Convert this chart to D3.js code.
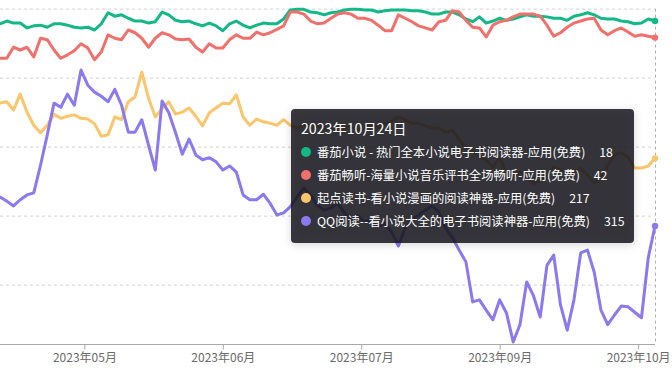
<!DOCTYPE html>
<html>
<head>
<meta charset="utf-8">
<script src="https://cdn.jsdelivr.net/npm/d3@7"></script>
<style>
  body { margin: 0; background: #fff; }
  svg { display: block; font-family: "Noto Sans CJK SC", "Noto Sans", sans-serif; }
</style>
</head>
<body>
<div id="vis"></div>
<script>
// app names (tooltip order = draw order)
var names = [
  "番茄小说 - 热门全本小说电子书阅读器-应用(免费)",
  "番茄畅听-海量小说音乐评书全场畅听-应用(免费)",
  "起点读书-看小说漫画的阅读神器-应用(免费)",
  "QQ阅读--看小说大全的电子书阅读神器-应用(免费)"
];
var colors = ["#13b886", "#f2706b", "#fbc56c", "#8a79ef"];

// one value every 2 days, 2023-04-13 .. 2023-10-24 (rank, 1 = top)
var fanqie = [22,18,21,21,28,25,24,27,22,22,24,27,28,27,31,22,6,11,9,14,
  18,18,21,19,5,9,17,19,18,22,25,21,25,32,22,18,24,28,24,21,
  22,22,15,2,1,1,5,6,9,6,5,2,1,1,2,2,5,3,2,2,
  2,3,3,5,8,8,5,5,9,15,19,12,21,18,14,17,15,12,9,11,
  11,12,14,14,17,11,9,6,9,14,15,15,18,19,22,21,15,18];
var changting = [72,72,56,60,56,70,43,45,60,72,67,61,51,57,74,63,38,43,45,31,
  35,43,56,43,35,38,44,45,44,56,63,51,57,57,45,38,43,43,34,38,
  35,30,25,5,5,8,18,22,21,14,8,6,8,14,14,17,24,32,32,9,
  14,19,25,28,31,19,17,3,5,17,27,28,41,24,19,17,12,8,8,8,
  11,24,40,35,27,21,18,15,14,31,38,32,28,34,40,38,40,42];
var qidian = [137,135,147,124,150,169,180,169,153,159,156,154,159,160,167,185,183,157,161,135,
  128,92,130,157,145,135,153,150,144,156,170,151,144,137,138,125,157,169,160,164,
  166,169,161,169,173,169,173,170,174,172,176,173,170,176,172,169,173,167,163,157,
  161,166,166,170,173,173,179,176,190,201,205,215,219,230,215,238,244,237,241,254,
  248,241,230,234,237,237,231,241,253,245,227,212,209,215,231,231,228,217];
var qq = [273,279,286,277,270,267,227,183,137,143,124,140,89,111,121,127,135,117,140,179,
  179,161,198,234,134,151,180,211,189,212,219,216,222,234,228,237,270,277,277,269,
  282,299,296,287,273,260,270,285,292,289,282,296,306,300,309,305,316,311,324,344,
  318,306,299,292,286,295,318,332,350,367,425,422,437,451,422,441,483,458,396,416,
  447,372,357,429,466,422,354,350,382,437,458,444,431,432,440,448,361,315];

var series = [fanqie, changting, qidian, qq];

var dates = d3.timeDay.range(new Date(2023, 3, 13), new Date(2023, 9, 25), 2);
var tickDates = ["2023-05-08", "2023-06-18", "2023-07-29", "2023-09-08", "2023-10-19"];
var yTicks = [0, 100, 200, 300, 400];
var yMax = 486;

var W = 672, H = 371;
var parse = d3.timeParse("%Y-%m-%d");

var x = d3.scaleTime()
  .domain([dates[0], dates[dates.length - 1]])
  .range([0, 655]);
var y = d3.scaleLinear().domain([0, yMax]).range([8.6, 344]);

var svg = d3.select("#vis").append("svg")
  .attr("width", W)
  .attr("height", H);

var defs = svg.append("defs");
var f = defs.append("filter").attr("id", "shadow")
  .attr("x", "-10%").attr("y", "-10%").attr("width", "120%").attr("height", "130%");
f.append("feDropShadow").attr("dx", 0).attr("dy", 2).attr("stdDeviation", 4)
  .attr("flood-color", "#000").attr("flood-opacity", 0.18);

// grid
svg.append("g").selectAll("line").data(yTicks).enter().append("line")
  .attr("x1", 0).attr("x2", 655)
  .attr("y1", function(d){ return y(d) + 0.5; })
  .attr("y2", function(d){ return y(d) + 0.5; })
  .attr("stroke", "#d2d2d2")
  .attr("stroke-dasharray", "3,3");

// x axis
var xAxis = d3.axisBottom(x)
  .tickValues(tickDates.map(parse))
  .tickFormat(d3.timeFormat("%Y年%m月"))
  .tickSizeInner(5).tickSizeOuter(0).tickPadding(4);

var gx = svg.append("g").attr("transform", "translate(0," + 344.5 + ")").call(xAxis);
gx.select(".domain").attr("stroke", "#a8a8a8").attr("d", "M0,0H655");
gx.selectAll(".tick line").attr("stroke", "#a8a8a8");
gx.selectAll(".tick text").attr("fill", "#6a6a6a").attr("font-size", 12)
  .attr("font-family", "Noto Sans CJK SC");

// axis pointer
svg.append("line")
  .attr("x1", 655.5).attr("x2", 655.5)
  .attr("y1", y(0)).attr("y2", 344)
  .attr("stroke", "#b0b0b0")
  .attr("stroke-dasharray", "3,3");

var line = d3.line()
  .x(function(d, i){ return x(dates[i]); })
  .y(function(d){ return y(d); });

svg.append("g").selectAll("path").data(series).enter().append("path")
  .attr("d", line)
  .attr("fill", "none")
  .attr("stroke", function(d, i){ return colors[i]; })
  .attr("stroke-width", 3)
  .attr("stroke-linejoin", "round")
  .attr("stroke-linecap", "round");

var last = dates.length - 1;
svg.append("g").selectAll("circle").data(series).enter().append("circle")
  .attr("cx", x(dates[last]))
  .attr("cy", function(d){ return y(d[last]); })
  .attr("r", 3.2)
  .attr("fill", function(d, i){ return colors[i]; });

// tooltip
var tip = svg.append("g");
tip.append("rect")
  .attr("x", 291).attr("y", 109).attr("width", 343).attr("height", 134)
  .attr("rx", 4)
  .attr("fill", "rgba(20,26,33,0.86)")
  .attr("filter", "url(#shadow)");
tip.append("text")
  .attr("x", 301).attr("y", 134)
  .attr("fill", "#fff")
  .attr("font-size", 14.2)
  .text(d3.timeFormat("%Y年%m月%d日")(dates[last]));

var rows = tip.selectAll("g.row").data(names).enter().append("g")
  .attr("transform", function(d, i){ return "translate(0," + (152 + i * 23) + ")"; });
rows.append("circle").attr("cx", 306).attr("cy", 0).attr("r", 5)
  .attr("fill", function(d, i){ return colors[i]; });
var t = rows.append("text").attr("x", 317).attr("y", 4.5)
  .attr("fill", "#fff").attr("font-size", 12.3);
t.append("tspan").text(function(d){ return d; });
t.append("tspan").attr("dx", 14).text(function(d, i){ return series[i][last]; });
</script>
</body>
</html>
